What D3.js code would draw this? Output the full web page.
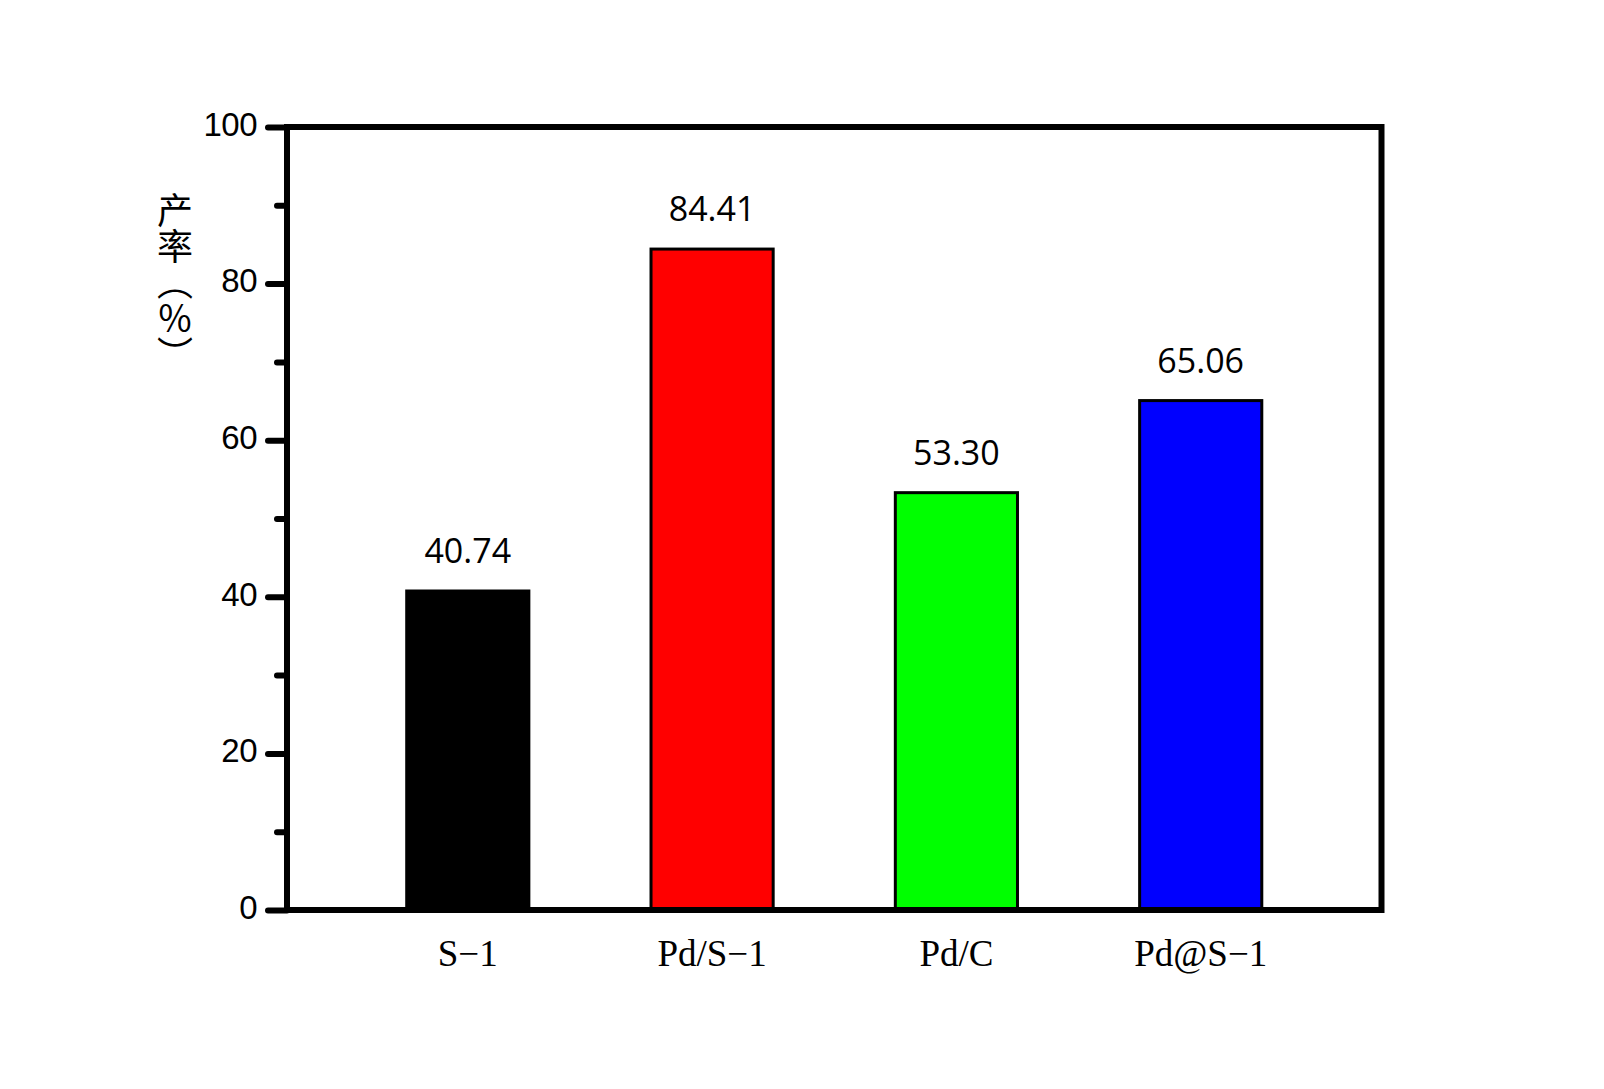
<!DOCTYPE html>
<html>
<head>
<meta charset="utf-8">
<script src="https://cdn.jsdelivr.net/npm/d3@7"></script>
<style>
  html, body { margin: 0; padding: 0; background: #fff; }
  svg { display: block; }
</style>
</head>
<body>
<svg id="chart" width="1604" height="1089"></svg>
<script>
const categories = ["S\u22121", "Pd/S\u22121", "Pd/C", "Pd@S\u22121"];
const yields = [40.74, 84.41, 53.30, 65.06];
const valueLabels = ["40.74", "84.41", "53.30", "65.06"];
const barColors = ["#000000", "#ff0000", "#00ff00", "#0000ff"];
const majorTicks = [0, 20, 40, 60, 80, 100];
const minorTicks = [10, 30, 50, 70, 90];
const yLabel = "产率（％）";

const svg = d3.select("#chart");
const plot = { left: 287, right: 1381.5, top: 127, bottom: 910 };

const x = d3.scaleBand()
  .domain(categories)
  .range([plot.left, plot.right])
  .paddingInner(0.5)
  .paddingOuter(0.49);

const y = d3.scaleLinear().domain([0, 100]).range([plot.bottom, plot.top]);

const data = categories.map((c, i) => ({ cat: c, v: yields[i], label: valueLabels[i], color: barColors[i] }));

// bars
svg.append("g").selectAll("rect")
  .data(data)
  .join("rect")
  .attr("x", d => x(d.cat))
  .attr("width", x.bandwidth())
  .attr("y", d => y(d.v))
  .attr("height", d => y(0) - y(d.v))
  .attr("fill", d => d.color)
  .attr("stroke", "#000")
  .attr("stroke-width", 3);

// value labels
svg.append("g").selectAll("text")
  .data(data)
  .join("text")
  .attr("x", d => x(d.cat) + x.bandwidth() / 2)
  .attr("y", d => y(d.v) - 28)
  .attr("text-anchor", "middle")
  .attr("font-family", "'Open Sans', 'Noto Sans', sans-serif")
  .attr("font-size", 34)
  .attr("fill", "#000")
  .text(d => d.label);

// y axis major ticks
const yAxis = d3.axisLeft(y).tickValues(majorTicks).tickSize(19).tickPadding(11).tickFormat(d3.format("d"));
const gy = svg.append("g").attr("transform", `translate(${plot.left},0)`).call(yAxis);
gy.select(".domain").remove();
gy.selectAll(".tick line").attr("stroke", "#000").attr("stroke-width", 6).attr("stroke-linecap", "round");
gy.selectAll(".tick text")
  .attr("font-family", "'Liberation Sans', Arial, sans-serif")
  .attr("font-size", 33)
  .attr("letter-spacing", -0.5)
  .attr("fill", "#000")
  .attr("dy", "0.25em");

// minor ticks
const yMinor = d3.axisLeft(y).tickValues(minorTicks).tickSize(10).tickFormat("");
const gm = svg.append("g").attr("transform", `translate(${plot.left},0)`).call(yMinor);
gm.select(".domain").remove();
gm.selectAll(".tick line").attr("stroke", "#000").attr("stroke-width", 6).attr("stroke-linecap", "round");

// frame
svg.append("rect")
  .attr("x", plot.left)
  .attr("y", plot.top)
  .attr("width", plot.right - plot.left)
  .attr("height", plot.bottom - plot.top)
  .attr("fill", "none")
  .attr("stroke", "#000")
  .attr("stroke-width", 6);

// x category labels
svg.append("g").selectAll("text")
  .data(categories)
  .join("text")
  .attr("x", d => x(d) + x.bandwidth() / 2)
  .attr("y", 966)
  .attr("text-anchor", "middle")
  .attr("font-family", "'Liberation Serif', 'Times New Roman', serif")
  .attr("font-size", 37)
  .attr("fill", "#000")
  .text(d => d);

// y axis title (vertical)
svg.append("text")
  .attr("x", 175)
  .attr("y", 192)
  .style("writing-mode", "vertical-rl")
  .attr("font-family", "'Noto Sans CJK SC', sans-serif")
  .attr("font-size", 36)
  .attr("fill", "#000")
  .text(yLabel);
</script>
</body>
</html>
